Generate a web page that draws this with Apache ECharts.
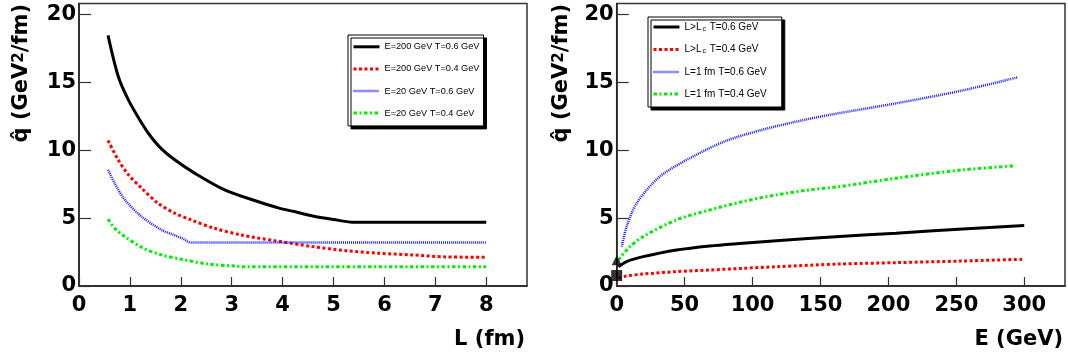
<!DOCTYPE html>
<html><head><meta charset="utf-8">
<script src="https://cdn.jsdelivr.net/npm/echarts@6/dist/echarts.min.js"></script>
<style>html,body{margin:0;padding:0;background:#fff}#c{width:1068px;height:360px}</style>
</head><body><div id="c"></div>
<script>
// ---- tick labels ----
const xTicksL = [0,1,2,3,4,5,6,7,8];
const xTicksE = [0,50,100,150,200,250,300];
const yTicks = [0,5,10,15,20];

// ---- legend names ----
const namesL = ['E=200 GeV T=0.6 GeV','E=200 GeV T=0.4 GeV','E=20 GeV T=0.6 GeV','E=20 GeV T=0.4 GeV'];
const namesE = ['L>Lc T=0.6 GeV','L>Lc T=0.4 GeV','L=1 fm T=0.6 GeV','L=1 fm T=0.4 GeV'];

// ---- left panel: qhat vs L (fm) ----
const lBlack = [0.57,0.77,0.97,1.23,1.42,1.62,1.88,2.27,2.86,3.51,3.93,4.23,4.59,5.0,5.37,8.0];
const qBlack = [18.45,15.44,13.7,12.0,10.95,10.1,9.29,8.31,7.08,6.22,5.73,5.48,5.16,4.9,4.7,4.7];
const lRed = [0.57,0.77,0.97,1.23,1.55,1.88,2.2,2.66,3.18,3.84,4.59,5.24,5.89,6.54,7.2,8.0];
const qRed = [10.72,9.29,8.19,7.2,6.1,5.36,4.87,4.25,3.76,3.34,2.9,2.6,2.41,2.29,2.14,2.12];
const lBlue = [0.57,0.70,0.9,1.23,1.62,1.85,2.03,2.2,8.0];
const qBlue = [8.55,7.57,6.34,5.11,4.13,3.78,3.5,3.2,3.2];
const lGreen = [0.57,0.70,0.9,1.23,1.62,2.01,2.53,3.05,3.25,8.0];
const qGreen = [4.92,4.25,3.64,2.85,2.29,1.97,1.62,1.47,1.42,1.42];

// ---- right panel: qhat vs E (GeV) ----
const eBlack = [1.2,7.3,19.5,44,68.5,93,117.5,164,205.7,254.7,300];
const qBlackE = [1.42,1.8,2.16,2.65,2.95,3.15,3.34,3.64,3.89,4.2,4.45];
const eRed = [1.2,7.3,19.5,44,68.5,93,117.5,164,205.7,254.7,300];
const qRedE = [0.6,0.74,0.88,1.06,1.18,1.3,1.42,1.62,1.72,1.84,1.97];
const eBlue = [3.7,7.3,14.7,31.8,56.3,80.8,105.3,129.8,156.7,205.7,254.7,295];
const qBlueE = [2.9,4.37,6.1,8.06,9.54,10.7,11.45,12.05,12.6,13.45,14.4,15.36];
const eGreen = [1.2,9.8,19.5,44,68.5,93,117.5,142,164,205.7,254.7,293];
const qGreenE = [1.92,2.9,3.64,4.87,5.6,6.22,6.71,7.08,7.32,7.94,8.55,8.85];

// ---- markers at E = 0 ----
const markE = [0];
const triangleQ = [1.9];
const squareQ = [0.77];

const zip = (a, b) => a.map((v, i) => [v, b[i]]);

const styles = [
  {color:'#000000', width:3, type:'solid'},
  {color:'#ff0000', width:3, type:[3,2.5]},
  {color:'#1a1aff', width:2.5, type:[1,1]},
  {color:'#00ee00', width:3, type:[3.5,2.5,2,2.5]}
];

const FONT_AX = 'DejaVu Sans';
const FONT_LEG = 'Liberation Sans';

function mkX(idx, max, ticks){
  return {
    type:'value', gridIndex:idx, min:0, max:max,
    axisLine:{show:true, onZero:false, lineStyle:{color:'#222', width:1.5}},
    axisTick:{show:true, inside:true, length:9, customValues:ticks, lineStyle:{color:'#333', width:1.2}},
    axisLabel:{customValues:ticks, fontFamily:FONT_AX, fontWeight:'bold', fontSize:21, color:'#000', margin:9},
    splitLine:{show:false}
  };
}
function mkY(idx){
  return {
    type:'value', gridIndex:idx, min:0, max:20.8,
    axisLine:{show:true, onZero:false, lineStyle:{color:'#222', width:1.5}},
    axisTick:{show:true, inside:true, length:12, customValues:yTicks, lineStyle:{color:'#333', width:1.2}},
    axisLabel:{customValues:yTicks, fontFamily:FONT_AX, fontWeight:'bold', fontSize:21, color:'#000', margin:3},
    splitLine:{show:false}
  };
}
function mkLine(name, data, st, idx){
  return {
    type:'line', name:name, data:data, xAxisIndex:idx, yAxisIndex:idx,
    symbol:'none', smooth:0.3,
    lineStyle:{color:st.color, width:st.width, type:st.type},
    itemStyle:{color:st.color}, silent:true, animation:false
  };
}

const leftData = [zip(lBlack,qBlack), zip(lRed,qRed), zip(lBlue,qBlue), zip(lGreen,qGreen)];
const rightData = [zip(eBlack,qBlackE), zip(eRed,qRedE), zip(eBlue,qBlueE), zip(eGreen,qGreenE)];

const series = [];
leftData.forEach((d,i)=>series.push(mkLine(namesL[i], d, styles[i], 0)));
rightData.forEach((d,i)=>series.push(mkLine(namesE[i], d, styles[i], 1)));
series.push({type:'scatter', xAxisIndex:1, yAxisIndex:1, symbol:'triangle', symbolSize:10, clip:false,
  data:zip(markE, triangleQ), itemStyle:{color:'#000'}, z:5, silent:true});
series.push({type:'scatter', xAxisIndex:1, yAxisIndex:1, symbol:'rect', symbolSize:11, clip:false,
  data:zip(markE, squareQ), itemStyle:{color:'#000'}, z:5, silent:true});

const legendCommon = {
  orient:'vertical', itemWidth:26, itemHeight:12, selectedMode:false,
  backgroundColor:'#fff', borderColor:'#000', borderWidth:1, borderRadius:0,
  shadowColor:'#000', shadowBlur:0, shadowOffsetX:3, shadowOffsetY:3,
  itemStyle:{opacity:0},
  lineStyle:{width:'inherit'}
};

const option = {
  animation:false,
  grid:[
    {left:79, top:3.5, width:448, height:282.5, show:true, borderColor:'#333', borderWidth:1.5, backgroundColor:'transparent'},
    {left:616.7, top:3.5, width:448.3, height:282.5, show:true, borderColor:'#333', borderWidth:1.5, backgroundColor:'transparent'}
  ],
  xAxis:[mkX(0, 8.8, xTicksL), mkX(1, 330, xTicksE)],
  yAxis:[mkY(0), mkY(1)],
  legend:[
    Object.assign({}, legendCommon, {
      left:348, top:35, padding:[7,4,8,4], itemGap:12.5, data:namesL,
      textStyle:{fontFamily:FONT_LEG, fontSize:9.2, color:'#000'}
    }),
    Object.assign({}, legendCommon, {
      left:648, top:17, padding:[5,15,8,4], itemGap:12, data:namesE,
      formatter: n => n.replace('L>Lc', 'L>L{sub|c}'),
      textStyle:{fontFamily:FONT_LEG, fontSize:10, color:'#000',
        rich:{sub:{fontFamily:FONT_LEG, fontSize:7, color:'#000', verticalAlign:'bottom', padding:[4,1,0,1]}}}
    })
  ],
  graphic:[
    {type:'text', x:22, y:4, rotation:Math.PI/2, silent:true,
      style:{text:'q\u0302 (GeV{sup|2}/fm)', align:'right', verticalAlign:'middle',
        font:'bold 21px "DejaVu Sans"', fill:'#000',
        rich:{sup:{fontFamily:FONT_AX, fontWeight:'bold', fontSize:15, verticalAlign:'top', fill:'#000'}}}},
    {type:'text', x:562, y:4, rotation:Math.PI/2, silent:true,
      style:{text:'q\u0302 (GeV{sup|2}/fm)', align:'right', verticalAlign:'middle',
        font:'bold 21px "DejaVu Sans"', fill:'#000',
        rich:{sup:{fontFamily:FONT_AX, fontWeight:'bold', fontSize:15, verticalAlign:'top', fill:'#000'}}}},
    {type:'text', x:525, y:340, silent:true,
      style:{text:'L (fm)', align:'right', verticalAlign:'middle', font:'bold 21px "DejaVu Sans"', fill:'#000'}},
    {type:'text', x:1063, y:340, silent:true,
      style:{text:'E (GeV)', align:'right', verticalAlign:'middle', font:'bold 21px "DejaVu Sans"', fill:'#000'}}
  ],
  series:series
};

const chart = echarts.init(document.getElementById('c'), null, {renderer:'canvas'});
chart.setOption(option);
</script>
</body></html>
